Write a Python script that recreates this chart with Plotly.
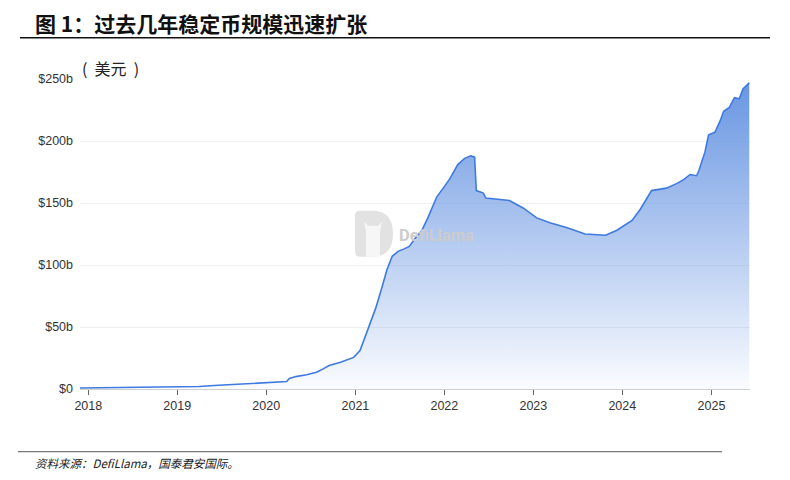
import plotly.graph_objects as go

# stablecoin market cap (billions USD)
dates = [
    "2017-11-28", "2018-03-01", "2018-06-01", "2018-10-01", "2019-01-01",
    "2019-04-01", "2019-06-01", "2019-08-01", "2019-10-01", "2019-12-01",
    "2020-01-10", "2020-03-01", "2020-03-25", "2020-04-05", "2020-05-01",
    "2020-06-15", "2020-07-25", "2020-08-20", "2020-09-15", "2020-11-01",
    "2020-12-25", "2021-01-20", "2021-02-10", "2021-03-05", "2021-03-25",
    "2021-04-20", "2021-05-10", "2021-06-01", "2021-06-25", "2021-07-20",
    "2021-08-10", "2021-09-05", "2021-10-01", "2021-10-25", "2021-12-01",
    "2021-12-31", "2022-01-25", "2022-02-25", "2022-03-25", "2022-04-20",
    "2022-05-05", "2022-05-12", "2022-06-10", "2022-06-20", "2022-08-10",
    "2022-09-25", "2022-11-20", "2023-01-15", "2023-03-10", "2023-05-20",
    "2023-08-01", "2023-10-25", "2023-12-10", "2024-02-10", "2024-03-15",
    "2024-04-30", "2024-06-30", "2024-08-15", "2024-09-10", "2024-10-05",
    "2024-11-01", "2024-11-10", "2024-12-05", "2024-12-20", "2025-01-15",
    "2025-02-05", "2025-02-20", "2025-03-15", "2025-04-05", "2025-04-25",
    "2025-05-10", "2025-06-05",
]
mcap = [
    0.8, 1.0, 1.2, 1.4, 1.6,
    2.0, 2.8, 3.5, 4.2, 4.6,
    5.0, 5.6, 6.0, 8.5, 10.0,
    11.5, 13.5, 16.0, 19.0, 21.5,
    25.5, 31.0, 42.0, 55.0, 65.0,
    82.0, 96.0, 107.0, 111.0, 113.0,
    115.0, 122.0, 128.0, 138.0, 155.0,
    163.0, 170.0, 181.0, 186.0, 188.0,
    187.0, 160.0, 158.0, 154.0, 153.0,
    152.0, 146.0, 138.0, 134.0, 130.0,
    125.0, 124.0, 128.0, 136.0, 145.0,
    160.0, 162.0, 166.0, 169.0, 173.0,
    172.0, 176.0, 191.0, 205.0, 207.0,
    216.0, 224.0, 227.0, 235.0, 234.0,
    242.0, 247.0,
]

y_ticks = [0, 50, 100, 150, 200, 250]
y_labels = ["$0", "$50b", "$100b", "$150b", "$200b", "$250b"]
x_ticks = [f"{y}-01-01" for y in range(2018, 2026)]
x_labels = [str(y) for y in range(2018, 2026)]

# the page puts the figure 8px in from the top-left, so work in page pixels
# and shift everything back by that offset
OFF = 8
W, H = 790 - OFF, 480 - OFF
L, R, T, B = 80 - OFF, 750 - OFF, 79.3 - OFF, 389.3 - OFF

def px(x):
    return (x - OFF - L) / (R - L)

def py(y):
    return (B - (y - OFF)) / (B - T)

fig = go.Figure()
fig.add_trace(go.Scatter(
    x=dates, y=mcap, mode="lines",
    line=dict(color="#3f7ae0", width=1.6),
    fill="tozeroy",
    fillgradient=dict(
        type="vertical", start=0, stop=250,
        colorscale=[[0, "rgba(95,143,224,0.03)"], [1, "rgba(95,143,224,0.95)"]],
    ),
    hoverinfo="skip",
))

font_axis = dict(family="Liberation Sans Narrow, Arial Narrow, Liberation Sans, sans-serif", size=12.5, color="#333333")

fig.update_layout(
    width=W, height=H,
    margin=dict(l=L, r=W - R, t=T, b=H - B),
    paper_bgcolor="white", plot_bgcolor="white",
    showlegend=False,
    xaxis=dict(
        type="date", range=["2017-11-28", "2025-06-08"],
        tickvals=x_ticks, ticktext=x_labels, tickfont=font_axis,
        showgrid=False, showline=True, linecolor="#d0d0d0", linewidth=1,
        ticks="outside", ticklen=5, tickcolor="#666666", zeroline=False,
    ),
    yaxis=dict(
        range=[0, 250], tickvals=y_ticks, ticktext=y_labels, tickfont=font_axis,
        showgrid=True, gridcolor="#f0f0f0", gridwidth=1, zeroline=False,
        ticks="", ticklabelstandoff=6,
    ),
)

# title, units, source
fig.add_annotation(
    x=px(33), y=py(23), xref="paper", yref="paper", xanchor="left", yanchor="middle",
    text="<b>图 1：过去几年稳定币规模迅速扩张</b>", showarrow=False,
    font=dict(family="Noto Sans CJK SC", size=21, color="#111111"),
)
fig.add_annotation(
    x=px(80), y=py(68), xref="paper", yref="paper", xanchor="left", yanchor="middle",
    text="(  美元  )", showarrow=False,
    font=dict(family="Noto Sans CJK SC", size=16, color="#222222"),
)
fig.add_annotation(
    x=px(33), y=py(463), xref="paper", yref="paper", xanchor="left", yanchor="middle",
    text="<i>资料来源：DefiLlama，国泰君安国际。</i>", showarrow=False,
    font=dict(family="Noto Sans CJK SC", size=11.5, color="#222222"),
)
fig.add_shape(type="line", xref="paper", yref="paper",
              x0=px(20), x1=px(770), y0=py(38), y1=py(38),
              line=dict(color="#111111", width=1.5))
fig.add_shape(type="line", xref="paper", yref="paper",
              x0=px(18), x1=px(722), y0=py(452), y1=py(452),
              line=dict(color="#777777", width=1.2))

# DefiLlama watermark
logo = (f"M {px(360)},{py(211)} L {px(372)},{py(211)} "
        f"Q {px(393)},{py(211)} {px(393)},{py(234)} "
        f"Q {px(393)},{py(257)} {px(372)},{py(257)} "
        f"L {px(360)},{py(257)} Q {px(355)},{py(257)} {px(355)},{py(252)} "
        f"L {px(355)},{py(216)} Q {px(355)},{py(211)} {px(360)},{py(211)} Z")
fig.add_shape(type="path", path=logo, xref="paper", yref="paper",
              fillcolor="#e2e2e2", line=dict(width=0), layer="below")
llama = (f"M {px(366)},{py(257)} L {px(366)},{py(232)} L {px(364)},{py(222)} "
         f"L {px(368)},{py(226)} L {px(378)},{py(226)} L {px(382)},{py(222)} "
         f"L {px(380)},{py(232)} L {px(380)},{py(257)} Z")
fig.add_shape(type="path", path=llama, xref="paper", yref="paper",
              fillcolor="#f6f6f6", line=dict(width=0), layer="below")
fig.add_annotation(
    x=px(397), y=py(236), xref="paper", yref="paper", xanchor="left", yanchor="middle",
    text="<b>DefiLlama</b>", showarrow=False,
    font=dict(family="Roboto, sans-serif", size=16.5, color="#cccccc"),
)

fig.write_html("out.html")
